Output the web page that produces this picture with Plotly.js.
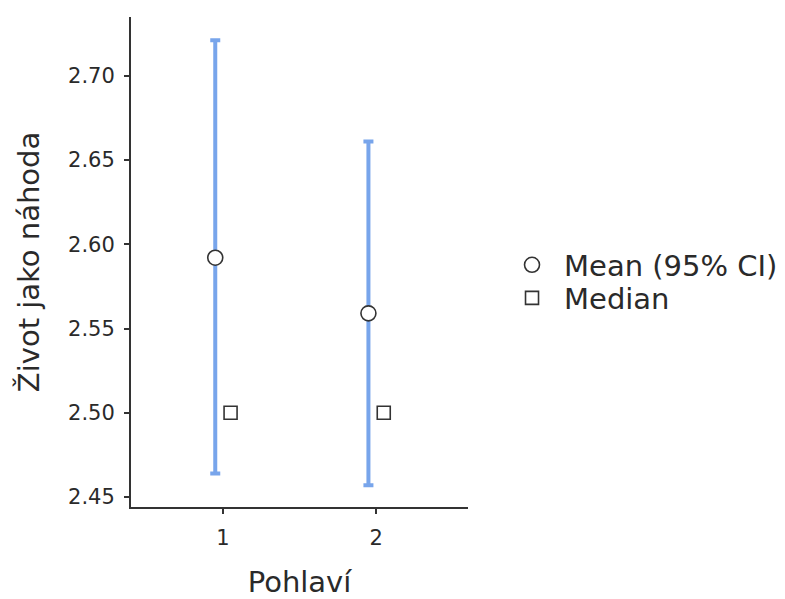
<!DOCTYPE html>
<html>
<head>
<meta charset="utf-8">
<script src="https://cdn.plot.ly/plotly-3.0.1.min.js"></script>
<style>html,body{margin:0;padding:0;background:#fff;}#chart{width:785px;height:599px;}</style>
</head>
<body>
<div id="chart"></div>
<script>
const groups = [1, 2];
const groupLabels = ["1", "2"];
const meanVals = [2.592, 2.559];
const ciLow = [2.464, 2.457];
const ciHigh = [2.721, 2.661];
const medianVals = [2.5, 2.5];
const yTicks = [2.45, 2.50, 2.55, 2.60, 2.65, 2.70];

const FONT = "DejaVu Sans, Liberation Sans, Arial, sans-serif";
const DARK = "#2a2a2a";
const AXIS = "#333333";
const BLUE = "#78a5eb";

const meanTrace = {
  type: "scatter", mode: "markers", name: "Mean (95% CI)",
  x: groups.map(g => g - 0.05), y: meanVals,
  error_y: {
    type: "data", symmetric: false,
    array: ciHigh.map((h, i) => h - meanVals[i]),
    arrayminus: ciLow.map((l, i) => meanVals[i] - l),
    color: BLUE, thickness: 4, width: 5
  },
  marker: {symbol: "circle", size: 15, color: "#ffffff", line: {color: AXIS, width: 1.6}},
  cliponaxis: false,
  legend: "legend"
};
const medianTrace = {
  type: "scatter", mode: "markers", name: "Median",
  x: groups.map(g => g + 0.05), y: medianVals,
  marker: {symbol: "square", size: 13, color: "#ffffff", line: {color: AXIS, width: 1.6}},
  cliponaxis: false,
  legend: "legend2"
};

const legendCommon = {
  xanchor: "left", yanchor: "middle", itemwidth: 54,
  font: {family: FONT, size: 29, color: DARK}, bgcolor: "rgba(0,0,0,0)", borderwidth: 0
};

const layout = {
  width: 785, height: 599,
  paper_bgcolor: "#ffffff", plot_bgcolor: "#ffffff",
  margin: {l: 131, r: 317, t: 17, b: 92, autoexpand: false},
  font: {family: FONT, color: DARK, size: 22},
  showlegend: true,
  legend: Object.assign({x: 1.095, y: 0.494}, legendCommon),
  legend2: Object.assign({x: 1.095, y: 0.4265}, legendCommon),
  xaxis: {
    range: [0.4, 2.6], tickvals: groups, ticktext: groupLabels,
    showline: true, linecolor: AXIS, linewidth: 2,
    ticks: "outside", ticklen: 5, tickwidth: 2, tickcolor: AXIS,
    showgrid: false, zeroline: false, ticklabelstandoff: 6,
    tickfont: {family: FONT, size: 21, color: DARK},
    title: {text: "Pohlaví", font: {family: FONT, size: 29, color: DARK}, standoff: 23}
  },
  yaxis: {
    range: [2.4441, 2.7348], tickvals: yTicks, tickformat: ".2f",
    showline: true, linecolor: AXIS, linewidth: 2,
    ticks: "outside", ticklen: 5, tickwidth: 2, tickcolor: AXIS,
    showgrid: false, zeroline: false, ticklabelstandoff: 5,
    tickfont: {family: FONT, size: 21, color: DARK},
    title: {text: "Život jako náhoda", font: {family: FONT, size: 29, color: DARK}, standoff: 20}
  }
};

Plotly.newPlot("chart", [meanTrace, medianTrace], layout, {displayModeBar: false, staticPlot: true});
</script>
</body>
</html>
